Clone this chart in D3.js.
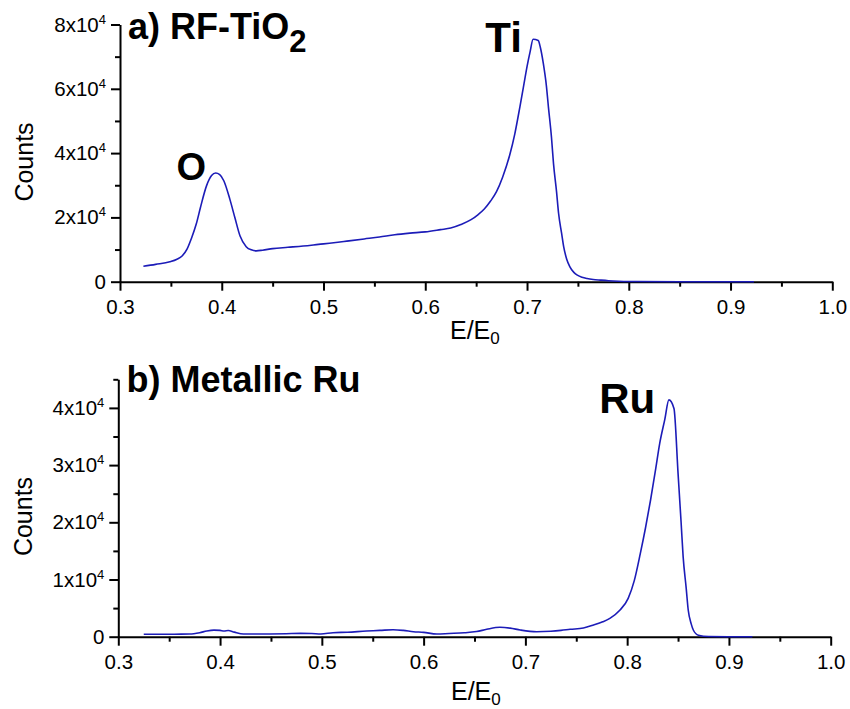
<!DOCTYPE html>
<html>
<head>
<meta charset="utf-8">
<script src="https://cdn.jsdelivr.net/npm/d3@7"></script>
<style>
  body { margin: 0; background: #fff; }
  svg { display: block; }
  text { font-family: "Liberation Sans", Arial, sans-serif; fill: #000; }
</style>
</head>
<body>
<svg id="chart" width="850" height="709"></svg>
<script>
// ---- Spectrum a) RF-TiO2 ----
const tio2Energy = [0.323, 0.335, 0.349, 0.356, 0.361, 0.366, 0.370, 0.375, 0.379, 0.385,
  0.390, 0.394, 0.398, 0.402, 0.408, 0.413, 0.418, 0.424, 0.429, 0.434,
  0.440, 0.450, 0.465, 0.480, 0.495, 0.510, 0.525, 0.540, 0.555, 0.570,
  0.585, 0.600, 0.615, 0.625, 0.635, 0.645, 0.652, 0.658, 0.664, 0.670,
  0.676, 0.683, 0.688, 0.693, 0.697, 0.700, 0.703, 0.706, 0.711, 0.713,
  0.716, 0.719, 0.721, 0.724, 0.726, 0.729, 0.731, 0.734, 0.736, 0.739,
  0.742, 0.746, 0.749, 0.754, 0.759, 0.765, 0.772, 0.780, 0.790, 0.800,
  0.850, 0.900, 0.923];
const tio2Counts = [4800, 5400, 6200, 7000, 8000, 10200, 13300, 18000, 23000, 29800,
  33000, 33800, 33300, 31400, 25600, 19800, 14200, 10900, 9900, 9600,
  9800, 10300, 10700, 11100, 11600, 12100, 12700, 13300, 13900, 14600,
  15100, 15500, 16200, 16700, 17800, 19300, 20900, 22600, 25000, 28000,
  32500, 39400, 46000, 54400, 61500, 66900, 71500, 75400, 75000, 73000,
  67900, 61000, 54400, 45000, 36800, 28000, 21300, 15000, 10900, 7000,
  4700, 2900, 2100, 1400, 1000, 700, 500, 300, 150, 80,
  0, 0, 0];

// ---- Spectrum b) Metallic Ru ----
const ruEnergy = [0.325, 0.340, 0.355, 0.370, 0.380, 0.387, 0.394, 0.400, 0.404, 0.408,
  0.414, 0.423, 0.435, 0.449, 0.465, 0.479, 0.490, 0.499, 0.511, 0.525,
  0.544, 0.557, 0.570, 0.580, 0.590, 0.600, 0.613, 0.625, 0.640, 0.652,
  0.662, 0.675, 0.685, 0.695, 0.711, 0.725, 0.735, 0.744, 0.757, 0.767,
  0.776, 0.783, 0.793, 0.801, 0.807, 0.813, 0.818, 0.823, 0.828, 0.832,
  0.837, 0.841, 0.846, 0.850, 0.853, 0.855, 0.858, 0.860, 0.863, 0.865,
  0.870, 0.880, 0.900, 0.923];
const ruCounts = [420, 430, 440, 460, 700, 1000, 1150, 1100, 1000, 1080,
  800, 480, 460, 470, 520, 590, 560, 470, 700, 780,
  1000, 1100, 1220, 1100, 870, 760, 470, 560, 680, 900,
  1290, 1640, 1500, 1170, 870, 950, 1100, 1290, 1520, 2040,
  2600, 3210, 4670, 6710, 9800, 14600, 19000, 23900, 29300, 33800,
  38000, 41400, 39900, 28600, 20000, 14000, 8500, 4670, 2200, 1170,
  250, 30, 0, 0];

// ---- Axis ticks ----
const xMajorTicks = [0.3, 0.4, 0.5, 0.6, 0.7, 0.8, 0.9, 1.0];
const xMinorTicks = [0.35, 0.45, 0.55, 0.65, 0.75, 0.85, 0.95];
const tio2YMajor = [0, 20000, 40000, 60000, 80000];
const tio2YMinor = [10000, 30000, 50000, 70000];
const ruYMajor = [0, 10000, 20000, 30000, 40000];
const ruYMinor = [5000, 15000, 25000, 35000, 45000];

// ---- Text ----
const panelTitles = [{ main: "a) RF-TiO", sub: "2" }, { main: "b) Metallic Ru", sub: "" }];
const peakLabels = [
  { panel: 0, text: "O", e: 0.370, c: 31600 },
  { panel: 0, text: "Ti", e: 0.677, c: 71500 },
  { panel: 1, text: "Ru", e: 0.800, c: 39100 }
];

const lineColor = "#1c1cb8";
const svg = d3.select("#chart");

const panels = [
  { energy: tio2Energy, counts: tio2Counts, yMax: 80000, yMajor: tio2YMajor, yMinor: tio2YMinor,
    xRange: [120, 832.3], yRange: [281.7, 24.5], titleX: 128, titleY: 39,
    countsY: 162, countsX: 33, eY: 339, eX: 450 },
  { energy: ruEnergy, counts: ruCounts, yMax: 45000, yMajor: ruYMajor, yMinor: ruYMinor,
    xRange: [118.3, 830.7], yRange: [636.7, 379.3], titleX: 126.5, titleY: 392,
    countsY: 516.5, countsX: 32, eY: 700, eX: 451 }
];

function yLabel(sel) {
  sel.each(function (d) {
    const t = d3.select(this);
    t.text(null);
    if (d === 0) { t.text("0"); return; }
    t.append("tspan").text((d / 10000) + "x10");
    t.append("tspan").attr("font-size", 13).attr("dy", -8).text("4");
  });
}

panels.forEach((p, i) => {
  const x = d3.scaleLinear().domain([0.3, 1.0]).range(p.xRange);
  const y = d3.scaleLinear().domain([0, p.yMax]).range(p.yRange);
  const g = svg.append("g");

  // x axis: major + minor ticks
  g.append("g").attr("transform", `translate(0,${p.yRange[0]})`)
    .call(d3.axisBottom(x).tickValues(xMajorTicks).tickSize(9).tickSizeOuter(0)
      .tickPadding(9).tickFormat(d3.format(".1f")));
  const xMin = g.append("g").attr("transform", `translate(0,${p.yRange[0]})`)
    .call(d3.axisBottom(x).tickValues(xMinorTicks).tickSize(5).tickFormat(""));
  xMin.select(".domain").remove();

  // y axis: major + minor ticks
  const yAx = g.append("g").attr("transform", `translate(${p.xRange[0]},0)`)
    .call(d3.axisLeft(y).tickValues(p.yMajor).tickSize(9).tickSizeOuter(0).tickPadding(5));
  yAx.selectAll(".tick text").call(yLabel);
  const yMin = g.append("g").attr("transform", `translate(${p.xRange[0]},0)`)
    .call(d3.axisLeft(y).tickValues(p.yMinor).tickSize(5).tickFormat(""));
  yMin.select(".domain").remove();

  g.selectAll(".domain, .tick line").attr("stroke", "#000").attr("stroke-width", 2);
  g.selectAll(".tick text").attr("font-size", 20.5).attr("font-family", "Liberation Sans, Arial, sans-serif");

  // spectrum line
  const pts = p.energy.map((e, k) => [e, p.counts[k]]);
  g.append("path").datum(pts)
    .attr("fill", "none").attr("stroke", lineColor).attr("stroke-width", 1.6)
    .attr("stroke-linejoin", "round")
    .attr("d", d3.line().x(d => x(d[0])).y(d => y(d[1])).curve(d3.curveMonotoneX));

  // panel title
  const tt = g.append("text").attr("x", p.titleX).attr("y", p.titleY)
    .attr("font-size", 36).attr("font-weight", "bold");
  tt.append("tspan").text(panelTitles[i].main);
  if (panelTitles[i].sub) tt.append("tspan").attr("font-size", 31).attr("dy", 13).text(panelTitles[i].sub);

  // axis titles
  g.append("text").attr("transform", `translate(${p.countsX},${p.countsY}) rotate(-90)`)
    .attr("text-anchor", "middle").attr("font-size", 25).text("Counts");
  const et = g.append("text").attr("x", p.eX).attr("y", p.eY).attr("font-size", 25);
  et.append("tspan").text("E/E");
  et.append("tspan").attr("font-size", 17).attr("dy", 5).text("0");

  // peak labels
  peakLabels.filter(l => l.panel === i).forEach(l => {
    g.append("text").attr("x", x(l.e)).attr("y", y(l.c))
      .attr("text-anchor", "middle").attr("font-size", l.text === "O" ? 38 : 42)
      .attr("font-weight", "bold").text(l.text);
  });
});
</script>
</body>
</html>
